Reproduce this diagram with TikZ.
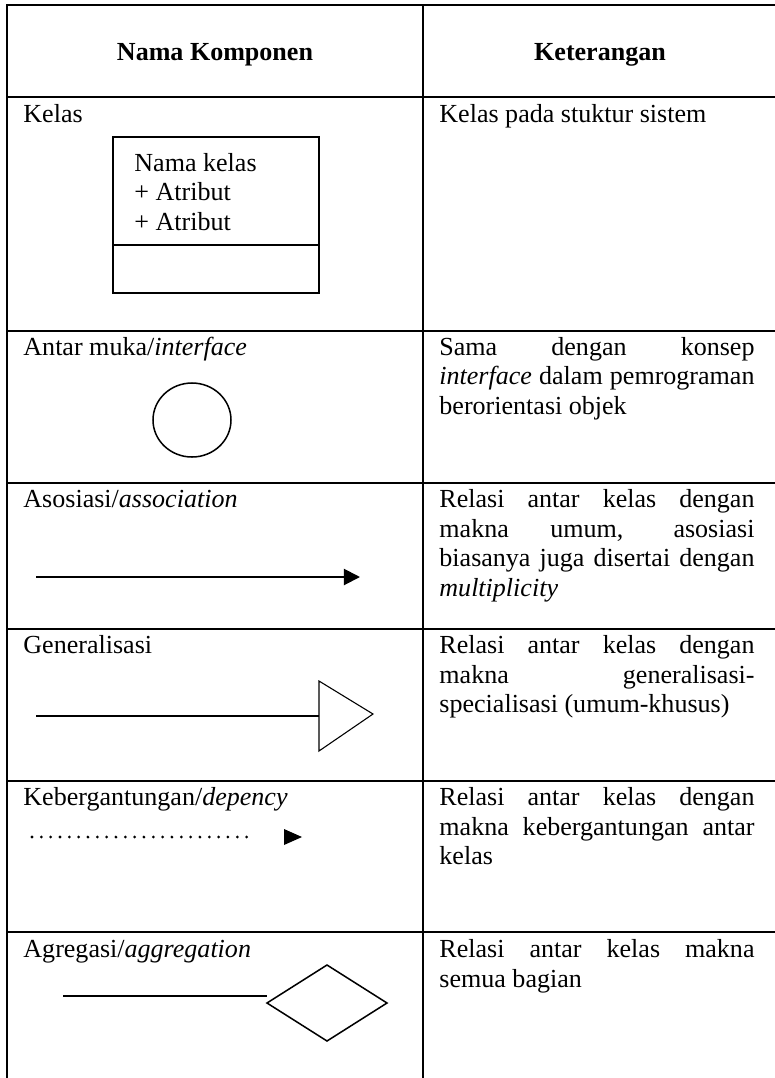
\documentclass[tikz,border=0pt]{standalone}
\usepackage{fontspec}
\setmainfont{Liberation Serif}
\usepackage{tikz}
\usetikzlibrary{arrows.meta}

\newlength\ketw
\setlength\ketw{145.2pt}
\newcommand\jl[1]{\makebox[\ketw][s]{#1}}

\begin{document}
\begin{tikzpicture}[x=0.4608pt, y=-0.4608pt,
    grid/.style={line width=0.9pt, line cap=rect},
    txt/.style={anchor=base west, inner sep=0pt, font=\fontsize{12pt}{13.82pt}\selectfont},
    head/.style={txt, anchor=base, font=\fontsize{12pt}{13.82pt}\selectfont\bfseries},
    ket/.style={txt, text width=145.2pt, align=justify}]
    \useasboundingbox (0,0) rectangle (774,1078);

    \foreach \y in {5,97,331,483,629,781,932}
      \draw[grid] (7,\y) -- (777,\y);
    \foreach \x in {7,423,777}
      \draw[grid] (\x,5) -- (\x,1090);

    \node[head] (h1) at (215,60) {Nama Komponen};
    \node[head] (h2) at (600,60) {Keterangan};

    \node[txt] (k1) at (23,122) {Kelas};
    \node[txt] (k2) at (23,355) {Antar muka/\textit{interface}};
    \node[txt] (k3) at (23,507) {Asosiasi/\textit{association}};
    \node[txt] (k4) at (23,653) {Generalisasi};
    \node[txt] (k5) at (23,805) {Kebergantungan/\textit{depency}};
    \node[txt] (k6) at (23,957) {Agregasi/\textit{aggregation}};

    \node[ket] (t1) at (439,122) {Kelas pada stuktur sistem};
    \node[ket] (t2) at (439,355) {\jl{Sama dengan konsep}\\
      \jl{\textit{interface} dalam pemrograman}\\berorientasi objek};
    \node[ket] (t3) at (439,507) {\jl{Relasi antar kelas dengan}\\
      \jl{makna umum, asosiasi}\\\jl{biasanya juga disertai dengan}\\
      \textit{multiplicity}};
    \node[ket] (t4) at (439,653) {\jl{Relasi antar kelas dengan}\\
      \jl{makna generalisasi-}\\specialisasi (umum-khusus)};
    \node[ket] (t5) at (439,805) {\jl{Relasi antar kelas dengan}\\
      \jl{makna kebergantungan antar}\\kelas};
    \node[ket] (t6) at (439,957) {\jl{Relasi antar kelas makna}\\semua bagian};

    \draw[line width=0.9pt] (113,137) rectangle (319,293);
    \draw[line width=0.9pt] (113,245) -- (319,245);
    \node[ket] (kb) at (134,171) {Nama kelas\\+ Atribut\\+ Atribut};

    \draw[line width=0.7pt] (192,420) ellipse [x radius=39, y radius=37];

    \coordinate (a1) at (36,577);
    \coordinate (a2) at (360,577);
    \draw[line width=0.9pt, -{Triangle[length=7.4pt,width=7.4pt]}] (a1) -- (a2);

    \coordinate (g1) at (36,716);
    \coordinate (g2) at (319,716);
    \draw[line width=0.7pt] (g1) -- (g2);
    \draw[line width=0.5pt, line join=miter] (319,681) -- (373,714) -- (319,751) -- cycle;

    \coordinate (d1) at (32,837);
    \coordinate (d2) at (247,837);
    \draw[line width=1.4pt, line cap=round, dash pattern=on 0pt off 4.3pt] (d1) -- (d2);
    \fill (284,829) -- (302,837) -- (284,845) -- cycle;

    \coordinate (r1) at (63,996);
    \coordinate (r2) at (267,996);
    \draw[line width=0.9pt] (r1) -- (r2);
    \draw[line width=0.7pt] (267,1003) -- (327,965) -- (387,1003) -- (327,1041) -- cycle;
\end{tikzpicture}
\end{document}
